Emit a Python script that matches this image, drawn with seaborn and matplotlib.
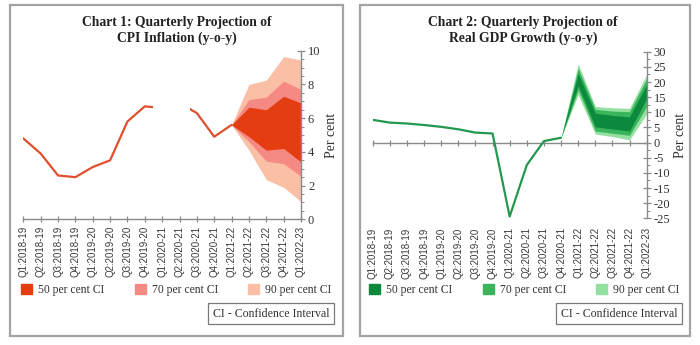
import matplotlib
matplotlib.use("Agg")
import matplotlib.pyplot as plt
import numpy as np
import pandas as pd
import seaborn as sns
from matplotlib.patches import Rectangle, Patch
from matplotlib.ticker import MultipleLocator

# ---------------------------------------------------------------- data
quarters = [
    "Q1:2018-19", "Q2:2018-19", "Q3:2018-19", "Q4:2018-19",
    "Q1:2019-20", "Q2:2019-20", "Q3:2019-20", "Q4:2019-20",
    "Q1:2020-21", "Q2:2020-21", "Q3:2020-21", "Q4:2020-21",
    "Q1:2021-22", "Q2:2021-22", "Q3:2021-22", "Q4:2021-22",
    "Q1:2022-23",
]

# CPI inflation, actual (Q1:2018-19 .. Q1:2021-22)
cpi_actual = [4.8, 3.9, 2.6, 2.5, 3.1, 3.5, 5.8, 6.7, 6.6, 6.9, 6.3, 4.9, 5.6]
# quarters with no published CPI print
cpi_missing = ["Q1:2020-21", "Q2:2020-21"]
# CPI fan (Q1:2021-22 .. Q1:2022-23)
cpi_90_hi = [5.6, 8.0, 8.25, 9.65, 9.45]
cpi_70_hi = [5.6, 7.1, 7.25, 8.2, 7.7]
cpi_50_hi = [5.6, 6.65, 6.5, 7.3, 6.9]
cpi_50_lo = [5.6, 4.9, 4.1, 4.2, 3.4]
cpi_70_lo = [5.6, 4.6, 3.45, 3.3, 2.55]
cpi_90_lo = [5.6, 4.1, 2.35, 1.9, 1.05]

# Real GDP growth, actual (Q1:2018-19 .. Q4:2020-21)
gdp_actual = [7.5, 6.6, 6.3, 5.8, 5.2, 4.4, 3.3, 3.0, -24.4, -7.4, 0.5, 1.6]
# GDP fan (Q4:2020-21 .. Q1:2022-23)
gdp_90_hi = [1.6, 26.0, 11.9, 11.5, 11.3, 22.5]
gdp_70_hi = [1.6, 24.5, 11.0, 10.4, 10.2, 21.0]
gdp_50_hi = [1.6, 22.8, 9.7, 9.0, 8.5, 19.2]
gdp_50_lo = [1.6, 18.8, 5.2, 4.5, 3.8, 14.5]
gdp_70_lo = [1.6, 17.4, 3.8, 3.1, 2.4, 12.0]
gdp_90_lo = [1.6, 15.8, 2.8, 2.0, 0.9, 9.5]

ci_labels = ["50 per cent CI", "70 per cent CI", "90 per cent CI"]

# ---------------------------------------------------------------- style
CPI_LINE = "#e0502d"
CPI_BANDS = ["#e43d12", "#f58a84", "#fbbfa5"]
GDP_LINE = "#23984e"
GDP_BANDS = ["#0b8a3e", "#3bb55c", "#94e0a0"]
SPINE = "#8a8a8a"
TEXT = "#333333"
SANS = ["Liberation Sans", "DejaVu Sans"]

sns.set_theme(style="white")
plt.rcParams["font.family"] = ["Liberation Serif", "DejaVu Serif"]
plt.rcParams["axes.axisbelow"] = "line"
plt.rcParams["axes.unicode_minus"] = False

fig = plt.figure(figsize=(7.0, 3.45), dpi=100)

ax1 = fig.add_axes([0.0333, 0.3643, 0.3967, 0.4887])
ax2 = fig.add_axes([0.5324, 0.3672, 0.3914, 0.4829])

idx = np.arange(len(quarters))


def draw_fan(ax, start, bands_hi, bands_lo, colors):
    x = idx[start:start + len(bands_hi[0])]
    # widest band first so narrower bands sit on top
    for hi, lo, c in zip(bands_hi[::-1], bands_lo[::-1], colors[::-1]):
        ax.fill_between(x, lo, hi, color=c, linewidth=0, zorder=2)


def style_y(ax, ylim, major, minor):
    ax.set_xlim(0, len(quarters) - 1)
    ax.set_ylim(*ylim)
    ax.yaxis.set_major_locator(MultipleLocator(major))
    ax.yaxis.set_minor_locator(MultipleLocator(minor))
    ax.yaxis.tick_right()
    ax.yaxis.set_label_position("right")
    for s in ["left", "top", "right", "bottom"]:
        ax.spines[s].set_visible(False)
    ax.spines["right"].set_visible(True)
    ax.spines["right"].set_color(SPINE)
    ax.spines["right"].set_linewidth(1.0)
    ax.tick_params(axis="y", which="major", direction="inout", length=6,
                   width=0.9, color=SPINE, labelsize=9, labelcolor=TEXT, pad=2)
    ax.tick_params(axis="y", which="minor", direction="out", length=2.5,
                   width=0.7, color=SPINE, right=True, left=False)
    ax.set_ylabel("Per cent", fontsize=10, color=TEXT, rotation=90, labelpad=3)
    ax.set_xlabel("")
    ax.set_facecolor("none")


def set_quarter_labels(ax):
    ax.set_xticks(idx)
    ax.set_xticklabels(quarters, rotation=90, fontsize=7.0, family=SANS,
                       color="#3a3a3a")


# ---------------------------------------------------------------- chart 1: CPI
cpi_df = pd.DataFrame({"quarter": idx[:len(cpi_actual)], "value": cpi_actual})
draw_fan(ax1, len(cpi_actual) - 1,
         [cpi_50_hi, cpi_70_hi, cpi_90_hi],
         [cpi_50_lo, cpi_70_lo, cpi_90_lo], CPI_BANDS)
sns.lineplot(data=cpi_df, x="quarter", y="value", ax=ax1, color=CPI_LINE,
             linewidth=1.6, zorder=3)
# blank out the quarters without a CPI print
gap_a = quarters.index(cpi_missing[0]) - 0.55
gap_b = quarters.index(cpi_missing[-1]) + 0.6
ax1.axvspan(gap_a, gap_b, ymin=0.03, ymax=1, color="white", zorder=3.5, lw=0)
style_y(ax1, (0, 10), 2, 0.5)
ax1.spines["bottom"].set_visible(True)
ax1.spines["bottom"].set_color(SPINE)
ax1.spines["bottom"].set_linewidth(1.0)
ax1.tick_params(axis="x", direction="inout", length=5, width=0.9, color=SPINE,
                bottom=True, pad=2)
set_quarter_labels(ax1)

# ---------------------------------------------------------------- chart 2: GDP
gdp_df = pd.DataFrame({"quarter": idx[:len(gdp_actual)], "value": gdp_actual})
draw_fan(ax2, len(gdp_actual) - 1,
         [gdp_50_hi, gdp_70_hi, gdp_90_hi],
         [gdp_50_lo, gdp_70_lo, gdp_90_lo], GDP_BANDS)
sns.lineplot(data=gdp_df, x="quarter", y="value", ax=ax2, color=GDP_LINE,
             linewidth=1.6, zorder=3)
style_y(ax2, (-25, 30), 5, 2.5)
# horizontal axis line with its ticks sits at zero, labels stay at the bottom
ax2.spines["top"].set_visible(True)
ax2.spines["top"].set_position(("data", 0))
ax2.spines["top"].set_color(SPINE)
ax2.spines["top"].set_linewidth(1.0)
ax2.tick_params(axis="x", direction="inout", length=5, width=0.9, color=SPINE,
                top=True, bottom=False, labeltop=False, labelbottom=True, pad=4)
set_quarter_labels(ax2)

# ---------------------------------------------------------------- titles, legends, frames
TITLE_KW = dict(ha="center", va="center", fontsize=9.8, fontweight="bold",
                color="#222222")
fig.text(0.253, 0.936, "Chart 1: Quarterly Projection of", **TITLE_KW)
fig.text(0.253, 0.889, "CPI Inflation (y-o-y)", **TITLE_KW)
fig.text(0.747, 0.936, "Chart 2: Quarterly Projection of", **TITLE_KW)
fig.text(0.747, 0.889, "Real GDP Growth (y-o-y)", **TITLE_KW)

for colors, cx in [(CPI_BANDS, 0.252), (GDP_BANDS, 0.749)]:
    handles = [Patch(facecolor=c, edgecolor=c, label=l) for c, l in zip(colors, ci_labels)]
    fig.legend(handles=handles, loc="center", bbox_to_anchor=(cx, 0.159), ncol=3,
               frameon=False, fontsize=8.4, handlelength=0.95, handleheight=0.95,
               handletextpad=0.5, columnspacing=2.6, labelcolor=TEXT,
               borderpad=0, borderaxespad=0)

for cx in [0.387, 0.884]:
    fig.text(cx, 0.09, "CI - Confidence Interval", ha="center", va="center",
             fontsize=8.6, color=TEXT,
             bbox=dict(boxstyle="square,pad=0.38", fc="white", ec="#7a7a7a", lw=0.9))

for x0, x1 in [(10, 343), (360, 690)]:
    fig.patches.append(Rectangle((x0 / 700, 1 - 336 / 345), (x1 - x0) / 700, 331 / 345,
                                 transform=fig.transFigure, fill=False,
                                 ec="#a3a3a3", lw=1.6))

fig.savefig("out.png", dpi=100)
